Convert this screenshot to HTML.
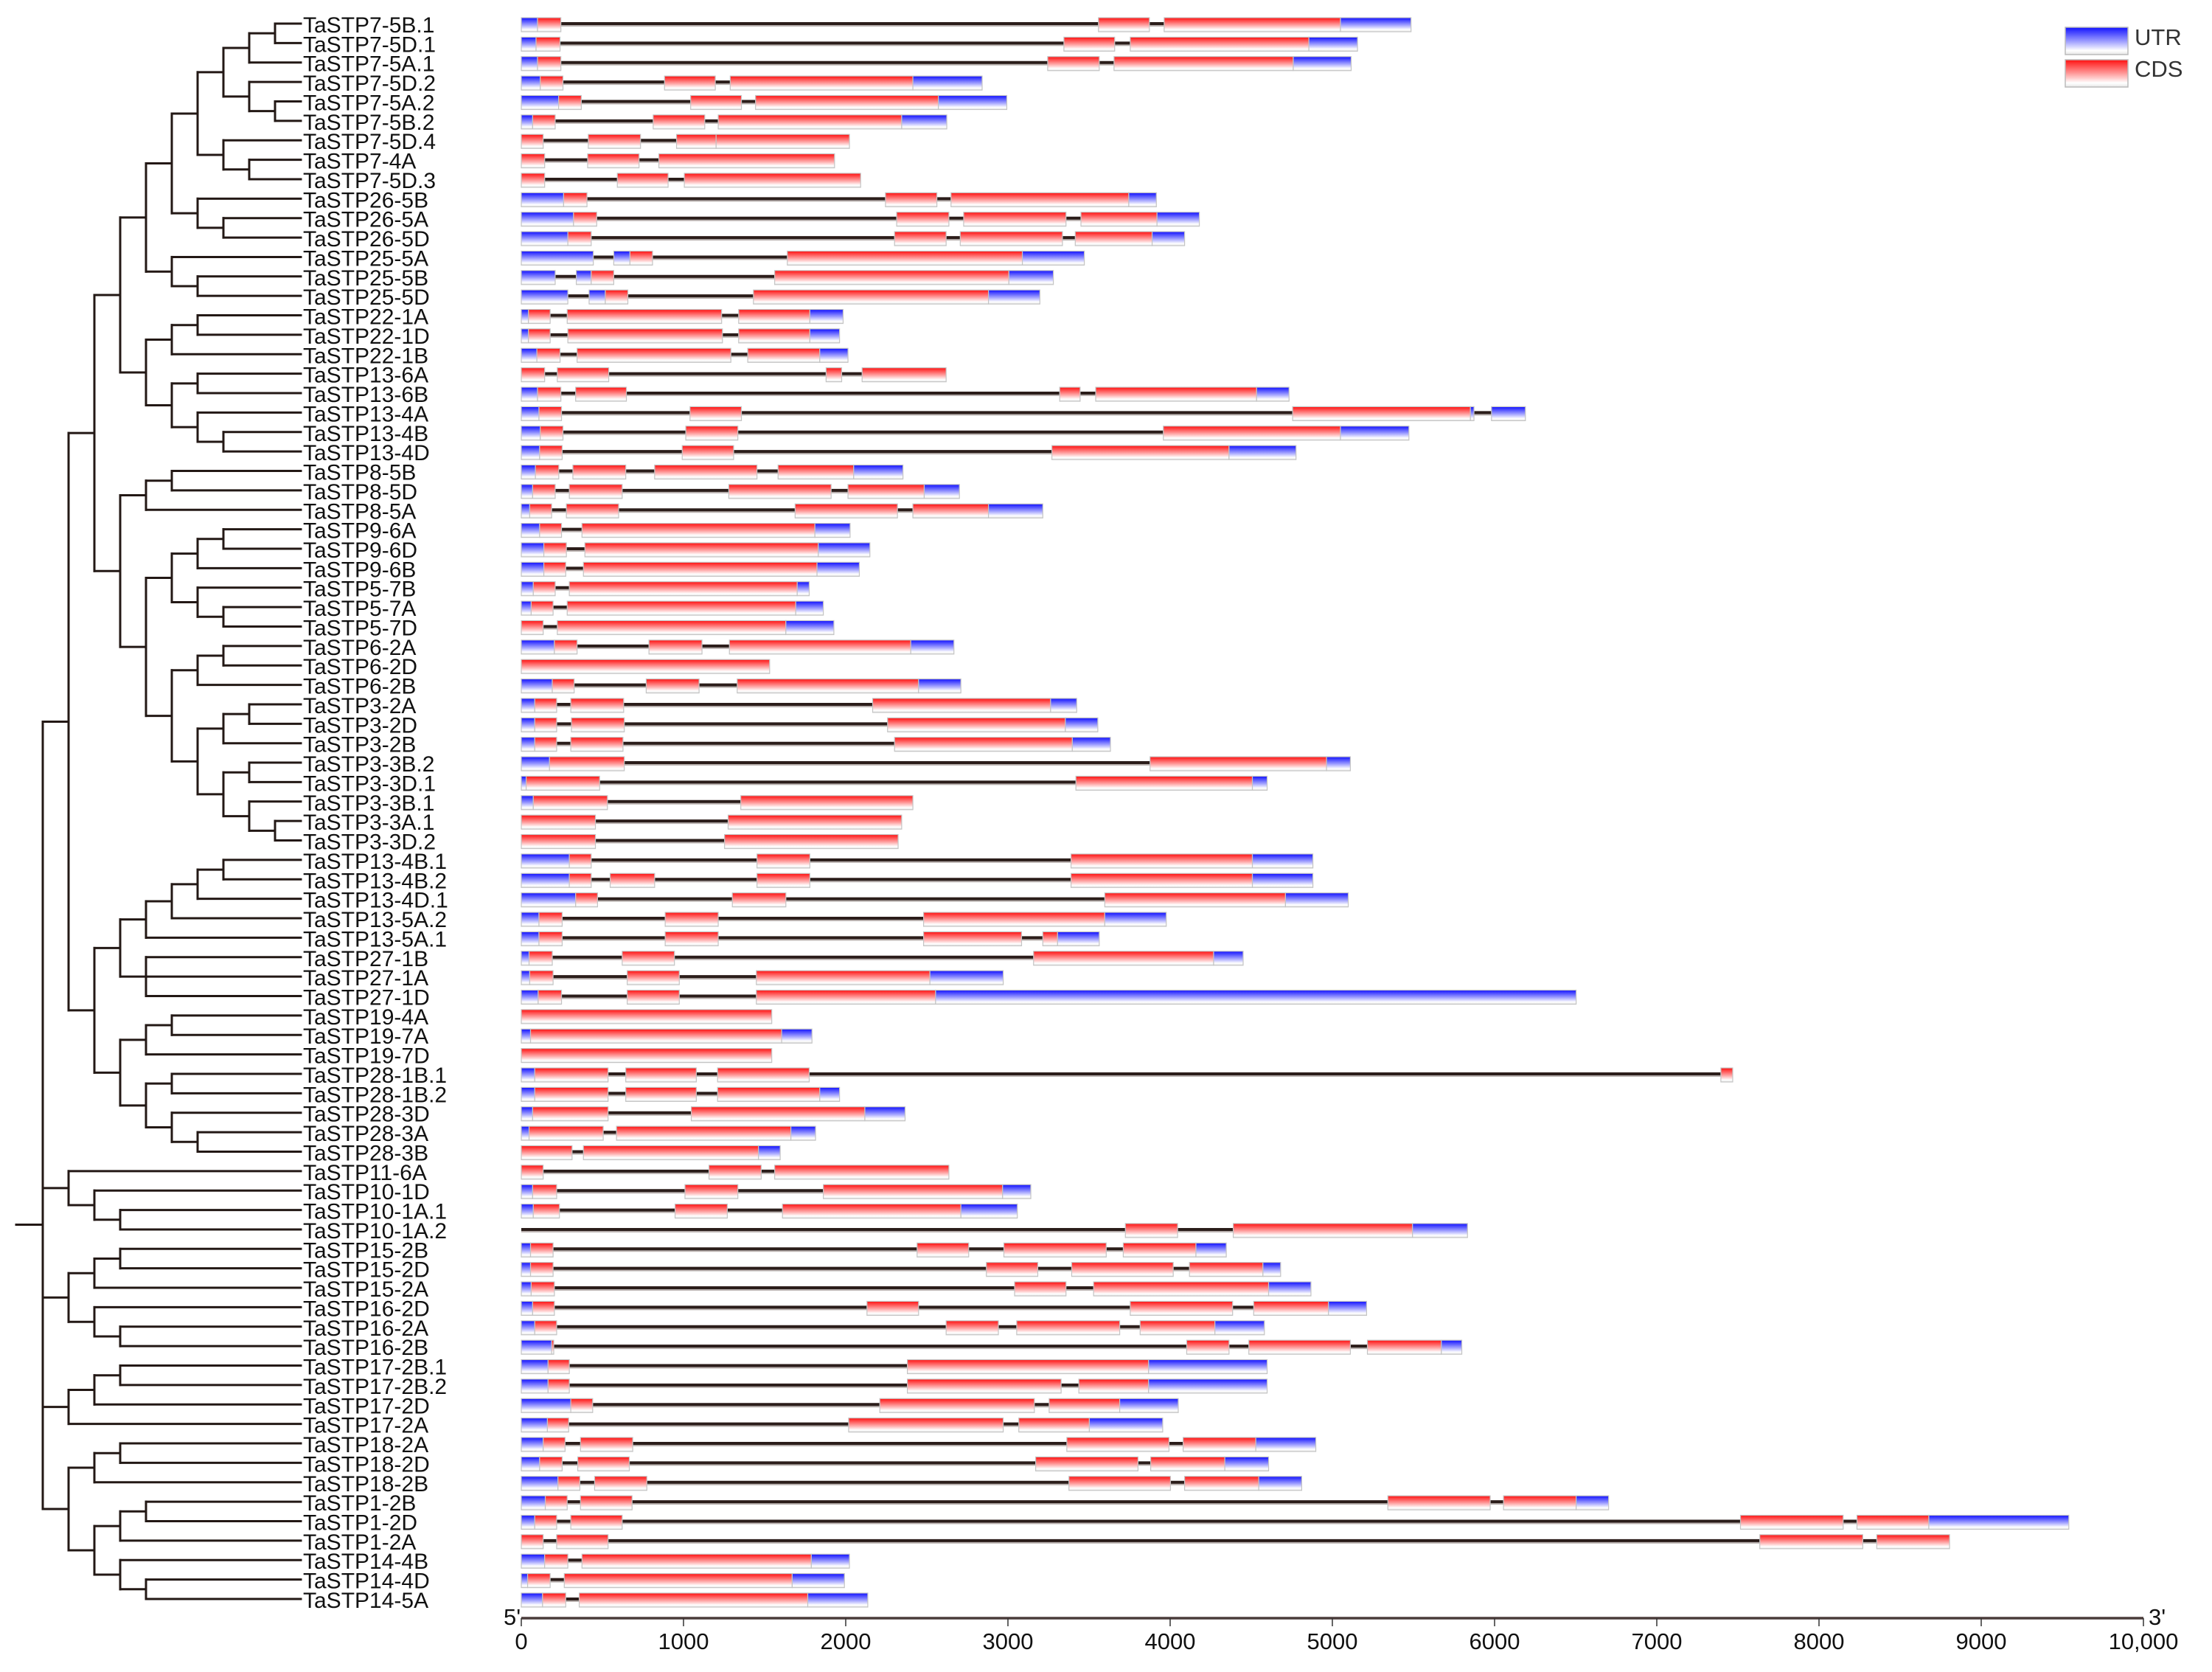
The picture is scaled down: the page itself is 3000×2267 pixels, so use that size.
<!DOCTYPE html>
<html><head><meta charset="utf-8">
<style>
html,body{margin:0;padding:0;background:#fff;}
svg{display:block;}
text{font-family:"Liberation Sans",Arial,sans-serif;}
</style></head>
<body>
<svg id="fig" width="3000" height="2267" viewBox="0 0 3000 2267" xmlns="http://www.w3.org/2000/svg">
<defs>
<linearGradient id="gU" x1="0" y1="0" x2="0" y2="1">
<stop offset="0" stop-color="#1010ff"/><stop offset="0.15" stop-color="#3a3aff"/><stop offset="0.55" stop-color="#a8a8ff"/><stop offset="0.85" stop-color="#ffffff"/><stop offset="1" stop-color="#e6e6e6"/>
</linearGradient>
<linearGradient id="gC" x1="0" y1="0" x2="0" y2="1">
<stop offset="0" stop-color="#ff1010"/><stop offset="0.15" stop-color="#ff3a3a"/><stop offset="0.55" stop-color="#ffa8a8"/><stop offset="0.85" stop-color="#ffffff"/><stop offset="1" stop-color="#e6e6e6"/>
</linearGradient>
</defs>
<g id="tree"></g>
<g id="labels"></g>
<g id="genes"></g>
<g id="axis"></g>
<g id="legend">
<rect x="2801" y="37" width="85" height="37" fill="url(#gU)" stroke="#bbb" stroke-width="1.5"/>
<text x="2895" y="61" font-size="31" fill="#333">UTR</text>
<rect x="2801" y="81" width="85" height="37" fill="url(#gC)" stroke="#bbb" stroke-width="1.5"/>
<text x="2895" y="104" font-size="31" fill="#333">CDS</text>
</g>
</svg>
<script>
const names = ["TaSTP7-5B.1","TaSTP7-5D.1","TaSTP7-5A.1","TaSTP7-5D.2","TaSTP7-5A.2","TaSTP7-5B.2","TaSTP7-5D.4","TaSTP7-4A","TaSTP7-5D.3","TaSTP26-5B","TaSTP26-5A","TaSTP26-5D","TaSTP25-5A","TaSTP25-5B","TaSTP25-5D","TaSTP22-1A","TaSTP22-1D","TaSTP22-1B","TaSTP13-6A","TaSTP13-6B","TaSTP13-4A","TaSTP13-4B","TaSTP13-4D","TaSTP8-5B","TaSTP8-5D","TaSTP8-5A","TaSTP9-6A","TaSTP9-6D","TaSTP9-6B","TaSTP5-7B","TaSTP5-7A","TaSTP5-7D","TaSTP6-2A","TaSTP6-2D","TaSTP6-2B","TaSTP3-2A","TaSTP3-2D","TaSTP3-2B","TaSTP3-3B.2","TaSTP3-3D.1","TaSTP3-3B.1","TaSTP3-3A.1","TaSTP3-3D.2","TaSTP13-4B.1","TaSTP13-4B.2","TaSTP13-4D.1","TaSTP13-5A.2","TaSTP13-5A.1","TaSTP27-1B","TaSTP27-1A","TaSTP27-1D","TaSTP19-4A","TaSTP19-7A","TaSTP19-7D","TaSTP28-1B.1","TaSTP28-1B.2","TaSTP28-3D","TaSTP28-3A","TaSTP28-3B","TaSTP11-6A","TaSTP10-1D","TaSTP10-1A.1","TaSTP10-1A.2","TaSTP15-2B","TaSTP15-2D","TaSTP15-2A","TaSTP16-2D","TaSTP16-2A","TaSTP16-2B","TaSTP17-2B.1","TaSTP17-2B.2","TaSTP17-2D","TaSTP17-2A","TaSTP18-2A","TaSTP18-2D","TaSTP18-2B","TaSTP1-2B","TaSTP1-2D","TaSTP1-2A","TaSTP14-4B","TaSTP14-4D","TaSTP14-5A"];

// exon segments per gene: [start bp, end bp, type U=UTR C=CDS]
const exons = [
[[0,100,"U"],[100,244,"C"],[3558,3872,"C"],[3963,5050,"C"],[5050,5485,"U"]],
[[0,91,"U"],[91,239,"C"],[3345,3658,"C"],[3754,4855,"C"],[4855,5155,"U"]],
[[0,100,"U"],[100,244,"C"],[3245,3563,"C"],[3654,4759,"C"],[4759,5116,"U"]],
[[0,117,"U"],[117,257,"C"],[883,1196,"C"],[1288,2414,"C"],[2414,2841,"U"]],
[[0,230,"U"],[230,370,"C"],[1044,1357,"C"],[1444,2571,"C"],[2571,2993,"U"]],
[[0,70,"U"],[70,209,"C"],[813,1131,"C"],[1214,2345,"C"],[2345,2623,"U"]],
[[0,135,"C"],[413,735,"C"],[957,1201,"C"],[1201,2023,"C"]],
[[0,144,"C"],[409,726,"C"],[848,1931,"C"]],
[[0,144,"C"],[592,905,"C"],[1005,2092,"C"]],
[[0,261,"U"],[261,405,"C"],[2245,2562,"C"],[2649,3745,"C"],[3745,3915,"U"]],
[[0,322,"U"],[322,465,"C"],[2314,2636,"C"],[2727,3358,"C"],[3450,3919,"C"],[3919,4180,"U"]],
[[0,287,"U"],[287,431,"C"],[2301,2619,"C"],[2706,3336,"C"],[3415,3889,"C"],[3889,4089,"U"]],
[[0,444,"U"],[570,670,"U"],[670,809,"C"],[1640,3089,"C"],[3089,3471,"U"]],
[[0,209,"U"],[339,431,"U"],[431,570,"C"],[1562,3006,"C"],[3006,3280,"U"]],
[[0,287,"U"],[418,518,"U"],[518,657,"C"],[1431,2880,"C"],[2880,3197,"U"]],
[[0,44,"U"],[44,178,"C"],[283,1235,"C"],[1340,1779,"C"],[1779,1984,"U"]],
[[0,44,"U"],[44,178,"C"],[287,1240,"C"],[1340,1779,"C"],[1779,1962,"U"]],
[[0,96,"U"],[96,239,"C"],[344,1292,"C"],[1396,1840,"C"],[1840,2014,"U"]],
[[0,144,"C"],[222,539,"C"],[1879,1975,"C"],[2101,2619,"C"]],
[[0,100,"U"],[100,244,"C"],[335,648,"C"],[3319,3445,"C"],[3541,4533,"C"],[4533,4733,"U"]],
[[0,109,"U"],[109,248,"C"],[1040,1357,"C"],[4755,5851,"C"],[5851,5873,"U"],[5981,6190,"U"]],
[[0,117,"U"],[117,257,"C"],[1014,1335,"C"],[3958,5050,"C"],[5050,5472,"U"]],
[[0,113,"U"],[113,252,"C"],[992,1309,"C"],[3271,4363,"C"],[4363,4776,"U"]],
[[0,87,"U"],[87,231,"C"],[318,644,"C"],[822,1453,"C"],[1583,2049,"C"],[2049,2353,"U"]],
[[0,70,"U"],[70,209,"C"],[296,622,"C"],[1279,1910,"C"],[2014,2484,"C"],[2484,2701,"U"]],
[[0,52,"U"],[52,187,"C"],[278,600,"C"],[1688,2319,"C"],[2414,2880,"C"],[2880,3215,"U"]],
[[0,113,"U"],[113,248,"C"],[374,1810,"C"],[1810,2027,"U"]],
[[0,139,"U"],[139,278,"C"],[392,1831,"C"],[1831,2149,"U"]],
[[0,139,"U"],[139,274,"C"],[383,1823,"C"],[1823,2084,"U"]],
[[0,74,"U"],[74,209,"C"],[296,1701,"C"],[1701,1775,"U"]],
[[0,61,"U"],[61,196,"C"],[283,1692,"C"],[1692,1862,"U"]],
[[0,135,"C"],[222,1631,"C"],[1631,1927,"U"]],
[[0,204,"U"],[204,344,"C"],[787,1114,"C"],[1283,2401,"C"],[2401,2667,"U"]],
[[0,1531,"C"]],
[[0,191,"U"],[191,326,"C"],[770,1096,"C"],[1331,2449,"C"],[2449,2710,"U"]],
[[0,83,"U"],[83,218,"C"],[305,631,"C"],[2166,3263,"C"],[3263,3424,"U"]],
[[0,83,"U"],[83,218,"C"],[309,635,"C"],[2258,3354,"C"],[3354,3554,"U"]],
[[0,83,"U"],[83,218,"C"],[305,627,"C"],[2301,3397,"C"],[3397,3632,"U"]],
[[0,174,"U"],[174,635,"C"],[3876,4964,"C"],[4964,5111,"U"]],
[[0,30,"U"],[30,483,"C"],[3419,4507,"C"],[4507,4598,"U"]],
[[0,74,"U"],[74,531,"C"],[1353,2414,"C"]],
[[0,457,"C"],[1275,2345,"C"]],
[[0,457,"C"],[1253,2323,"C"]],
[[0,296,"U"],[296,431,"C"],[1453,1779,"C"],[3389,4507,"C"],[4507,4880,"U"]],
[[0,296,"U"],[296,431,"C"],[548,822,"C"],[1453,1779,"C"],[3389,4507,"C"],[4507,4880,"U"]],
[[0,335,"U"],[335,470,"C"],[1301,1631,"C"],[3597,4711,"C"],[4711,5098,"U"]],
[[0,109,"U"],[109,252,"C"],[887,1214,"C"],[2480,3597,"C"],[3597,3976,"U"]],
[[0,109,"U"],[109,252,"C"],[887,1214,"C"],[2480,3084,"C"],[3215,3306,"C"],[3306,3563,"U"]],
[[0,48,"U"],[48,191,"C"],[622,944,"C"],[3158,4268,"C"],[4268,4450,"U"]],
[[0,52,"U"],[52,196,"C"],[653,974,"C"],[1449,2519,"C"],[2519,2971,"U"]],
[[0,104,"U"],[104,248,"C"],[653,974,"C"],[1449,2554,"C"],[2554,6503,"U"]],
[[0,1544,"C"]],
[[0,57,"U"],[57,1605,"C"],[1605,1792,"U"]],
[[0,1544,"C"]],
[[0,83,"U"],[83,535,"C"],[644,1079,"C"],[1210,1775,"C"],[7395,7468,"C"]],
[[0,83,"U"],[83,535,"C"],[644,1079,"C"],[1210,1840,"C"],[1840,1962,"U"]],
[[0,70,"U"],[70,535,"C"],[1048,2118,"C"],[2118,2366,"U"]],
[[0,48,"U"],[48,505,"C"],[587,1662,"C"],[1662,1814,"U"]],
[[0,313,"C"],[383,1462,"C"],[1462,1596,"U"]],
[[0,135,"C"],[1157,1479,"C"],[1562,2636,"C"]],
[[0,70,"U"],[70,218,"C"],[1009,1335,"C"],[1862,2967,"C"],[2967,3141,"U"]],
[[0,74,"U"],[74,235,"C"],[948,1270,"C"],[1610,2710,"C"],[2710,3058,"U"]],
[[3724,4046,"C"],[4389,5494,"C"],[5494,5833,"U"]],
[[0,57,"U"],[57,196,"C"],[2440,2758,"C"],[2975,3606,"C"],[3711,4159,"C"],[4159,4346,"U"]],
[[0,57,"U"],[57,196,"C"],[2867,3184,"C"],[3393,4019,"C"],[4119,4572,"C"],[4572,4681,"U"]],
[[0,61,"U"],[61,204,"C"],[3041,3358,"C"],[3528,4607,"C"],[4607,4868,"U"]],
[[0,70,"U"],[70,204,"C"],[2131,2449,"C"],[3754,4385,"C"],[4515,4976,"C"],[4976,5211,"U"]],
[[0,83,"U"],[83,218,"C"],[2619,2941,"C"],[3054,3689,"C"],[3815,4276,"C"],[4276,4581,"U"]],
[[0,187,"U"],[187,200,"C"],[4102,4363,"C"],[4485,5111,"C"],[5216,5672,"C"],[5672,5798,"U"]],
[[0,165,"U"],[165,296,"C"],[2380,3867,"C"],[3867,4598,"U"]],
[[0,165,"U"],[165,296,"C"],[2380,3328,"C"],[3437,3867,"C"],[3867,4598,"U"]],
[[0,305,"U"],[305,440,"C"],[2210,3163,"C"],[3254,3689,"C"],[3689,4050,"U"]],
[[0,161,"U"],[161,292,"C"],[2018,2971,"C"],[3067,3502,"C"],[3502,3954,"U"]],
[[0,135,"U"],[135,270,"C"],[365,687,"C"],[3363,3993,"C"],[4080,4528,"C"],[4528,4898,"U"]],
[[0,113,"U"],[113,252,"C"],[348,666,"C"],[3171,3802,"C"],[3880,4337,"C"],[4337,4607,"U"]],
[[0,226,"U"],[226,361,"C"],[452,774,"C"],[3376,4002,"C"],[4089,4546,"C"],[4546,4811,"U"]],
[[0,148,"U"],[148,283,"C"],[365,683,"C"],[5342,5973,"C"],[6055,6503,"C"],[6503,6703,"U"]],
[[0,83,"U"],[83,218,"C"],[305,622,"C"],[7516,8149,"C"],[8234,8677,"C"],[8677,9540,"U"]],
[[0,135,"C"],[218,535,"C"],[7635,8270,"C"],[8356,8805,"C"]],
[[0,144,"U"],[144,287,"C"],[374,1788,"C"],[1788,2023,"U"]],
[[0,39,"U"],[39,178,"C"],[265,1670,"C"],[1670,1992,"U"]],
[[0,131,"U"],[131,274,"C"],[357,1766,"C"],[1766,2136,"U"]]
];

const tickValues = [0,1000,2000,3000,4000,5000,6000,7000,8000,9000,10000];
const tickLabels = ["0","1000","2000","3000","4000","5000","6000","7000","8000","9000","10,000"];

// tree topology: [depthLevel, children...]; integer leaves are row indices
const treeTopology =
[1,
 [2,
  [3,
   [4,
    [5,
     [6,
      [7,[8,[9,[10,0,1],2],[9,3,[10,4,5]]],[8,6,[9,7,8]]],
      [7,9,[8,10,11]]],
     [6,12,[7,13,14]]],
    [5,
     [6,[7,15,16],17],
     [6,[7,18,19],[7,20,[8,21,22]]]]],
   [4,
    [5,[6,23,24],25],
    [5,
     [6,[7,[8,26,27],28],[7,29,[8,30,31]]],
     [6,[7,[8,32,33],34],[7,[8,[9,35,36],37],[8,[9,38,39],[9,40,[10,41,42]]]]]]]],
  [3,
   [4,[5,[6,[7,[8,43,44],45],46],47],[5,48,49,50]],
   [4,[5,[6,51,52],53],[5,[6,54,55],[6,56,[7,57,58]]]]]],
 [2,59,[3,60,[4,61,62]]],
 [2,[3,[4,63,64],65],[3,66,[4,67,68]]],
 [2,[3,[4,69,70],71],72],
 [2,[3,[4,73,74],75],[3,[4,[5,76,77],78],[4,79,[5,80,81]]]]
];

const NS="http://www.w3.org/2000/svg";
const X0=707, PXBP=0.22, Y0=32, DY=26.37, LEAFX=408;
const xScale = bp => X0 + bp*PXBP;
const rowY = i => Y0 + i*DY;
const levelX = d => 23 + 35*d;
function mk(tag, attrs, parent){const e=document.createElementNS(NS,tag);for(const k in attrs)e.setAttribute(k,attrs[k]);parent.appendChild(e);return e;}

// tree
const treeG=document.getElementById('tree');
function line(x1,y1,x2,y2,name){
  const l=mk('line',{x1:x1,y1:y1,x2:x2,y2:y2,stroke:'#231815','stroke-width':3,'stroke-linecap':'square'},treeG);
  
  
}
function drawNode(n){
  if(typeof n==='number'){return {y:rowY(n), x:LEAFX};}
  const x=levelX(n[0]);
  const kids=n.slice(1).map(drawNode);
  kids.forEach(k=>line(x,k.y,k.x,k.y,'tree-branch'));
  const ys=kids.map(k=>k.y);
  line(x,Math.min(...ys),x,Math.max(...ys),'tree-node-connector');
  return {y: ys.reduce((a,b)=>a+b,0)/ys.length, x:x};
}
const root=drawNode(treeTopology);
line(22,root.y,levelX(treeTopology[0]),root.y,'tree-root');

// labels
const labG=document.getElementById('labels');
names.forEach((nm,i)=>{
  const t=mk('text',{x:411,y:rowY(i)+12,'font-size':30,fill:'#111'},labG);
  
  
  t.textContent=nm;
});

// genes
const gG=document.getElementById('genes');
exons.forEach((segs,i)=>{
  const cy=rowY(i);
  const end=Math.max(...segs.map(s=>s[1]));
  const g=mk('g',{},gG);
  
  
  const sh=mk('line',{x1:xScale(0),y1:cy+2,x2:xScale(end),y2:cy+2,stroke:'#b8b0ae','stroke-width':4},g);
  
  
  const il=mk('line',{x1:xScale(0),y1:cy,x2:xScale(end),y2:cy,stroke:'#2b1d1a','stroke-width':4},g);
  
  
  segs.forEach(s=>{
    const r=mk('rect',{x:xScale(s[0]),y:cy-8,width:Math.max(1,xScale(s[1])-xScale(s[0])),height:19,fill:s[2]==='U'?'url(#gU)':'url(#gC)',stroke:'#c4c4c4','stroke-width':1.2},g);
    
    
  });
});

// axis
const aG=document.getElementById('axis');
const AY=2194;
const al=mk('line',{x1:xScale(0),y1:AY,x2:xScale(10000),y2:AY,stroke:'#4a3c3a','stroke-width':3.5},aG);


tickValues.forEach((v,i)=>{
  const tk=mk('line',{x1:xScale(v),y1:AY,x2:xScale(v),y2:AY+11,stroke:'#333','stroke-width':1.5},aG);
  
  
  const t=mk('text',{x:xScale(v),y:AY+42,'font-size':31,'text-anchor':'middle',fill:'#111'},aG);
  
  
  t.textContent=tickLabels[i];
});
const t5=mk('text',{x:683,y:2203,'font-size':31,fill:'#111'},aG);


t5.textContent="5'";
const t3=mk('text',{x:2914,y:2203,'font-size':31,fill:'#111'},aG);


t3.textContent="3'";
</script>
</body></html>
